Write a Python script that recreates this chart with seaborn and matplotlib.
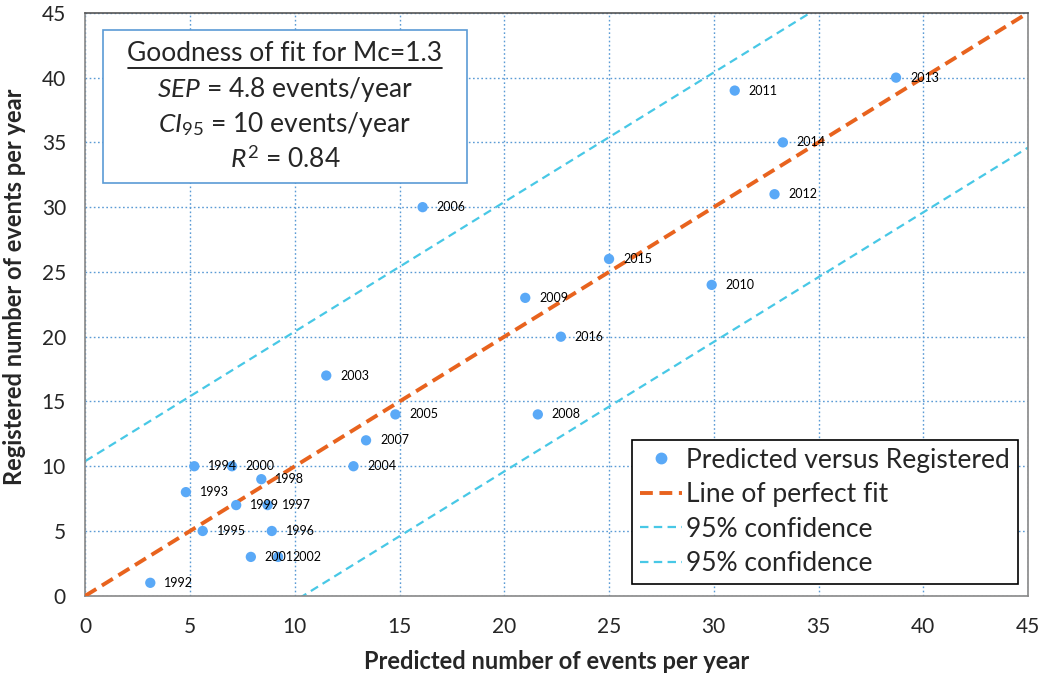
import matplotlib
matplotlib.use("Agg")
import matplotlib.pyplot as plt
import seaborn as sns
import pandas as pd
import numpy as np
from matplotlib.lines import Line2D
from matplotlib.patches import Rectangle

# ---- data ----
years = [1992, 1993, 1994, 1995, 1996, 1997, 1998, 1999, 2000, 2001, 2002,
         2003, 2004, 2005, 2006, 2007, 2008, 2009, 2010, 2011, 2012, 2013,
         2014, 2015, 2016]
predicted = [3.1, 4.8, 5.2, 5.6, 8.9, 8.7, 8.4, 7.2, 7.0, 7.9, 9.2,
             11.5, 12.8, 14.8, 16.1, 13.4, 21.6, 21.0, 29.9, 31.0, 32.9, 38.7,
             33.3, 25.0, 22.7]
registered = [1, 8, 10, 5, 5, 7, 9, 7, 10, 3, 3,
              17, 10, 14, 30, 12, 14, 23, 24, 39, 31, 40,
              35, 26, 20]
line_x = [0, 45]
ci_half = 10.4
x_ticks = list(range(0, 46, 5))
y_ticks = list(range(0, 46, 5))

df = pd.DataFrame({"year": years, "pred": predicted, "reg": registered})
perfect = pd.DataFrame({"x": line_x, "y": line_x})
upper = pd.DataFrame({"x": line_x, "y": [v + ci_half for v in line_x]})
lower = pd.DataFrame({"x": line_x, "y": [v - ci_half for v in line_x]})

sns.set_theme(style="white")
plt.rcParams["font.family"] = ["Lato", "DejaVu Sans"]
plt.rcParams["mathtext.fontset"] = "custom"
plt.rcParams["mathtext.rm"] = "Lato"
plt.rcParams["mathtext.it"] = "Lato:italic"

fig = plt.figure(figsize=(10.41, 6.77), dpi=100)
ax = fig.add_axes([0.082, 0.12, 0.9055, 0.861])

pt_color = "#5AA9F7"
orange = "#E8631E"
cyan = "#48C8E6"
grid_color = "#5B9BD5"

sns.lineplot(data=upper, x="x", y="y", ax=ax, color=cyan, lw=1.6,
             linestyle=(0, (3.8, 2.4)), zorder=2)
sns.lineplot(data=lower, x="x", y="y", ax=ax, color=cyan, lw=1.6,
             linestyle=(0, (3.8, 2.4)), zorder=2)
sns.lineplot(data=perfect, x="x", y="y", ax=ax, color=orange, lw=2.8,
             linestyle=(0, (3.3, 1.7)), zorder=3)
sns.scatterplot(data=df, x="pred", y="reg", ax=ax, color=pt_color, s=55,
                edgecolor="none", linewidth=0, zorder=4)

for yr, xv, yv in zip(years, predicted, registered):
    ax.annotate(str(yr), (xv, yv), xytext=(10, 0), textcoords="offset points",
                ha="left", va="center", fontsize=9, color="black", zorder=5)

ax.set_xlim(0, 45)
ax.set_ylim(0, 45)
ax.set_xticks(x_ticks)
ax.set_yticks(y_ticks)
ax.tick_params(axis="both", which="major", labelsize=15, direction="out",
               length=6, width=1, color="#888888", pad=8)
ax.tick_params(axis="x", pad=9)
ax.grid(True, color=grid_color, linestyle=(0, (1.2, 1.8)), linewidth=1.0)
ax.set_axisbelow(True)
for s in ax.spines.values():
    s.set_color("#888888")
    s.set_linewidth(1.2)
ax.spines["top"].set_color("#555555")

ax.set_xlabel("Predicted number of events per year", fontsize=17,
              fontweight="bold", labelpad=10)
ax.set_ylabel("Registered number of events per year", fontsize=17,
              fontweight="bold", labelpad=10)
ax.yaxis.set_label_coords(-0.063, 0.53)

# ---- goodness-of-fit box ----
bx0, bx1 = (103.3 - 85.5) / 942.5, (466.7 - 85.5) / 942.5
by1, by0 = (596 - 30) / 583.2, (596 - 182.7) / 583.2
ax.add_patch(Rectangle((bx0, by0), bx1 - bx0, by1 - by0, transform=ax.transAxes,
                       facecolor="white", edgecolor=grid_color, lw=1.2, zorder=6))
cx = (bx0 + bx1) / 2
lines = ["Goodness of fit for Mc=1.3",
         r"$SEP$ = 4.8 events/year",
         r"$CI_{95}$ = 10 events/year",
         r"$R^{2}$ = 0.84"]
ypix = [53, 89, 124, 159]
for t, yp in zip(lines, ypix):
    ax.text(cx, (596 - yp) / 583.2, t, transform=ax.transAxes, ha="center",
            va="center", fontsize=19, zorder=7)
ul_y = (596 - 67.7) / 583.2
ax.add_line(Line2D([(128 - 85.5) / 942.5, (442 - 85.5) / 942.5], [ul_y, ul_y],
                   transform=ax.transAxes, color="black", lw=1.2, zorder=7))

# ---- legend ----
handles = [
    Line2D([], [], marker="o", linestyle="none", color=pt_color, markersize=7.5),
    Line2D([], [], color=orange, lw=2.8, linestyle=(0, (3.3, 1.7))),
    Line2D([], [], color=cyan, lw=1.6, linestyle=(0, (3.8, 2.4))),
    Line2D([], [], color=cyan, lw=1.6, linestyle=(0, (3.8, 2.4))),
]
labels = ["Predicted versus Registered", "Line of perfect fit",
          "95% confidence", "95% confidence"]
leg = ax.legend(handles, labels, loc="lower right", bbox_to_anchor=(0.989, 0.02),
                borderaxespad=0, fontsize=19, frameon=True, fancybox=False,
                edgecolor="black", framealpha=1, handlelength=1.6,
                handletextpad=0.15, labelspacing=0.36, borderpad=0.3)
leg.get_frame().set_linewidth(1.2)
leg.set_zorder(8)

fig.savefig("out.png", dpi=100)
